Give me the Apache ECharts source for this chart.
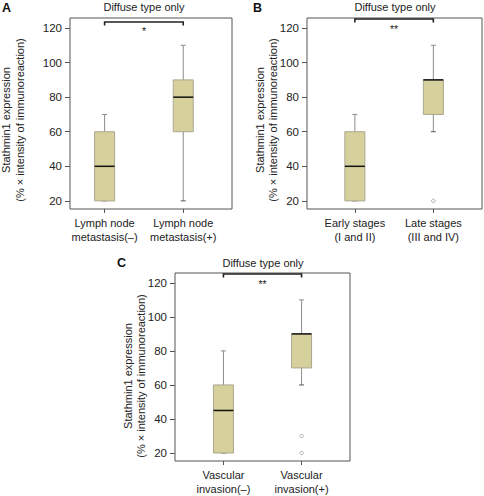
<!DOCTYPE html>
<html>
<head>
<meta charset="utf-8">
<script src="https://cdn.jsdelivr.net/npm/echarts@6/dist/echarts.min.js"></script>
<style>
html,body{margin:0;padding:0;background:#fff;}
#chart{width:484px;height:496px;}
</style>
</head>
<body>
<div id="chart"></div>
<script>
// ---- data ----
const panelTitle = 'Diffuse type only';
const yName1 = 'Stathmin1 expression';
const yName2 = '(% × intensity of immunoreaction)';
const yTicks = [20, 40, 60, 80, 100, 120];

const catsA = ['Lymph node\nmetastasis(–)', 'Lymph node\nmetastasis(+)'];
const catsB = ['Early stages\n(I and II)', 'Late stages\n(III and IV)'];
const catsC = ['Vascular\ninvasion(–)', 'Vascular\ninvasion(+)'];

// [min, Q1, median, Q3, max]
const boxA = [[20, 20, 40, 60, 70], [20, 60, 80, 90, 110]];
const boxB = [[20, 20, 40, 60, 70], [60, 70, 90, 90, 110]];
const boxC = [[20, 20, 45, 60, 80], [60, 70, 90, 90, 110]];

// [group, value]
const outliersA = [];
const outliersB = [[2, 20]];
const outliersC = [[2, 30], [2, 20]];

// significance bracket level and label
const sigLevelA = 123.5, sigA = '*';
const sigLevelB = 125.2, sigB = '**';
const sigLevelC = 125.2, sigC = '**';

// ---- chart ----
const FONT = 'Liberation Sans, Arial, Helvetica, sans-serif';
const chart = echarts.init(document.getElementById('chart'), null, {renderer: 'svg'});

const panels = [
  {cats: catsA, box: boxA, out: outliersA, sig: sigA, lvl: sigLevelA,
   grid: {left: 70, top: 18, width: 162, height: 191}, xmin: 0.56, xmax: 2.62},
  {cats: catsB, box: boxB, out: outliersB, sig: sigB, lvl: sigLevelB,
   grid: {left: 307, top: 18, width: 175, height: 191}, xmin: 0.39, xmax: 2.62},
  {cats: catsC, box: boxC, out: outliersC, sig: sigC, lvl: sigLevelC,
   grid: {left: 175, top: 273, width: 175, height: 191}, xmin: 0.38, xmax: 2.62}
];

const grids = [], xAxes = [], yAxes = [], series = [];
panels.forEach((p, k) => {
  grids.push(Object.assign({show: true, borderColor: '#555', borderWidth: 1, backgroundColor: 'transparent'}, p.grid));
  xAxes.push({
    type: 'value', gridIndex: k, min: p.xmin, max: p.xmax,
    axisLine: {show: false}, splitLine: {show: false},
    axisTick: {show: true, length: 4, customValues: [1, 2], lineStyle: {color: '#555'}},
    axisLabel: {customValues: [1, 2], margin: 7, color: '#222', fontSize: 11, lineHeight: 14, fontFamily: FONT,
      formatter: v => p.cats[Math.round(v) - 1] || ''}
  });
  yAxes.push({
    type: 'value', gridIndex: k, min: 15.3, max: 125.8,
    axisLine: {show: false}, splitLine: {show: false},
    axisTick: {show: true, length: 5, customValues: yTicks, lineStyle: {color: '#555'}},
    axisLabel: {customValues: yTicks, margin: 8, color: '#222', fontSize: 11.5, fontFamily: FONT}
  });
  series.push({
    type: 'custom', xAxisIndex: k, yAxisIndex: k,
    data: p.box.map((b, i) => [i + 1].concat(b)),
    encode: {x: 0, y: [1, 2, 3, 4, 5]},
    renderItem: (params, api) => {
      const x = api.value(0);
      const c = i => api.coord([x, api.value(i)]);
      const pMin = c(1), pQ1 = c(2), pMed = c(3), pQ3 = c(4), pMax = c(5);
      const px = pMin[0], hw = 10, cw = 2.5;
      const wStyle = {stroke: '#8c8c8c', lineWidth: 1};
      return {type: 'group', children: [
        {type: 'line', shape: {x1: px, y1: pQ3[1], x2: px, y2: pMax[1]}, style: wStyle},
        {type: 'line', shape: {x1: px, y1: pQ1[1], x2: px, y2: pMin[1]}, style: wStyle},
        {type: 'line', shape: {x1: px - cw, y1: pMax[1], x2: px + cw, y2: pMax[1]}, style: wStyle},
        {type: 'line', shape: {x1: px - cw, y1: pMin[1], x2: px + cw, y2: pMin[1]}, style: {stroke: '#555', lineWidth: 1}},
        {type: 'rect', shape: {x: px - hw, y: pQ3[1], width: 2 * hw, height: pQ1[1] - pQ3[1]},
          style: {fill: '#d6d09c', stroke: '#aaa78f', lineWidth: 1}},
        {type: 'line', shape: {x1: px - hw, y1: pMed[1], x2: px + hw, y2: pMed[1]}, style: {stroke: '#111', lineWidth: 1.5}}
      ]};
    }
  });
  series.push({
    type: 'scatter', xAxisIndex: k, yAxisIndex: k, data: p.out,
    symbol: 'circle', symbolSize: 3.5,
    itemStyle: {color: '#fff', borderColor: '#888', borderWidth: 0.8}
  });
  series.push({
    type: 'custom', xAxisIndex: k, yAxisIndex: k,
    data: [[1, 2, p.lvl]],
    renderItem: (params, api) => {
      const a = api.coord([api.value(0), api.value(2)]);
      const b = api.coord([api.value(1), api.value(2)]);
      return {type: 'group', children: [
        {type: 'polyline', shape: {points: [[a[0], a[1] + 3.5], [a[0], a[1]], [b[0], b[1]], [b[0], b[1] + 3.5]]},
          style: {stroke: '#222', lineWidth: 1.6, fill: null}},
        {type: 'text', style: {text: p.sig, x: (a[0] + b[0]) / 2, y: a[1] + 4, align: 'center', verticalAlign: 'top',
          fontSize: 10.5, fontFamily: FONT, fill: '#222'}}
      ]};
    }
  });
});

const txt = (text, x, y, extra) => Object.assign({type: 'text', x: x, y: y,
  style: {text: text, fontSize: 11, fontFamily: FONT, fill: '#222', align: 'center', verticalAlign: 'middle'}}, extra || {});
const rot = (text, x, y) => ({type: 'text', x: x, y: y, rotation: Math.PI / 2,
  style: {text: text, fontSize: 11, fontFamily: FONT, fill: '#222', align: 'center', verticalAlign: 'middle'}});
const letter = (text, x, y) => ({type: 'text', x: x, y: y,
  style: {text: text, fontSize: 12.5, fontWeight: 'bold', fontFamily: FONT, fill: '#111', align: 'left', verticalAlign: 'middle'}});

const graphics = [
  letter('A', 2, 8), letter('B', 253, 8), letter('C', 117, 263),
  txt(panelTitle, 144, 7), txt(panelTitle, 395, 7), txt(panelTitle, 263, 263),
  rot(yName1, 6, 120), rot(yName2, 20, 120),
  rot(yName1, 260, 120), rot(yName2, 273, 120),
  rot(yName1, 128, 376), rot(yName2, 141, 376)
];

chart.setOption({
  animation: false,
  backgroundColor: '#fff',
  grid: grids, xAxis: xAxes, yAxis: yAxes, series: series,
  graphic: graphics
});
</script>
</body>
</html>
